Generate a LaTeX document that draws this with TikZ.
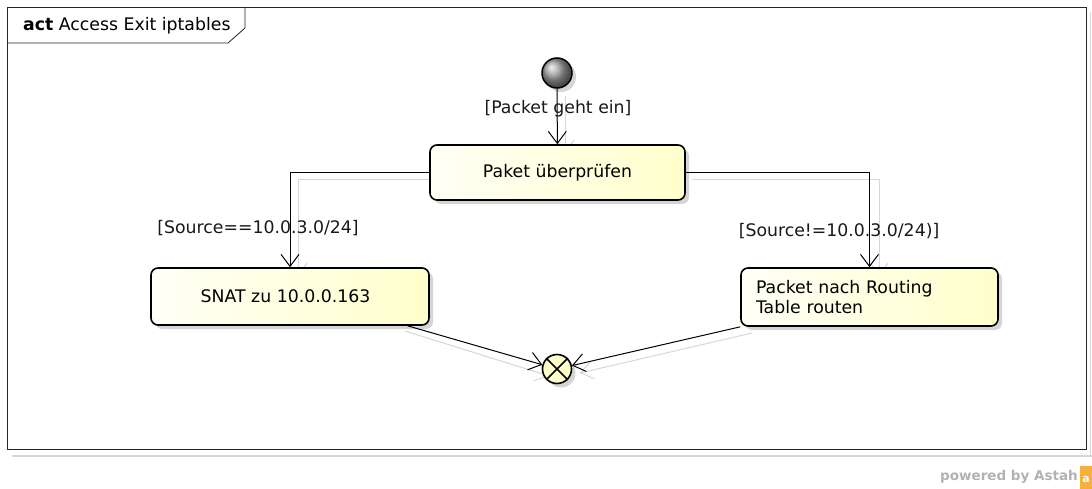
\documentclass[tikz,border=0pt]{standalone}
\usepackage{fontspec}
\setmainfont{DejaVu Sans}
\usetikzlibrary{arrows.meta,shadows}

\definecolor{boxL}{RGB}{255,255,246}
\definecolor{boxR}{RGB}{255,255,204}
\definecolor{shadecol}{RGB}{185,185,185}
\definecolor{edgeshade}{RGB}{215,215,215}
\definecolor{astahgray}{RGB}{178,178,178}
\definecolor{astahorange}{RGB}{246,176,60}

\begin{document}
\begin{tikzpicture}[x=1pt,y=-1pt,
  font=\fontsize{17.3}{20}\selectfont,
  action/.style={draw=black, line width=1.6pt, rounded corners=7pt,
    left color=boxL, right color=boxR, inner sep=0pt,
    drop shadow={shadow xshift=4pt, shadow yshift=-4pt, fill=shadecol, opacity=0.6}},
  flow/.style={draw=black, line width=1pt,
    -{Straight Barb[length=12pt,width=18pt,line width=1pt]}},
  flowshade/.style={draw=edgeshade, line width=1pt,
    -{Straight Barb[length=12pt,width=18pt,line width=1pt]}},
  guard/.style={inner sep=0pt, text=black!90}]

\useasboundingbox (0,0) rectangle (1092,489);

% diagram frame with its faint shadow
\draw[edgeshade, line width=1.5pt] (12,456) -- (1092,456);
\draw[edgeshade, line width=1pt] (1090,12) -- (1090,456);
\draw[black!85, line width=0.8pt, fill=white] (7,7) rectangle (1086,449);
\draw[black!85, line width=0.8pt] (7,43) -- (228,43) -- (245,28) -- (245,7);
\node[anchor=west, inner sep=0pt] (title) at (23,26) {\textbf{act} Access Exit iptables};

% edge shadows
\draw[flowshade] (565,96) -- (565,153);
\draw[flowshade] (438,180) -- (298,180) -- (298,276);
\draw[flowshade] (692,180) -- (879,180) -- (879,276);
\draw[flowshade] (405,331) -- (549,376);
\draw[flowshade] (752,333) -- (580,373);

% nodes
\node[circle, minimum size=30pt, inner sep=0pt, draw=black, line width=1.5pt,
      ball color=gray!75, drop shadow={shadow xshift=4pt, shadow yshift=-4pt, fill=shadecol, opacity=0.6}]
      (init) at (557,73) {};
\node[action, minimum width=255pt, minimum height=55pt] (check) at (557.5,172.5) {Paket überprüfen};
\node[action, minimum width=278pt, minimum height=57pt] (snat) at (290,296.5) {\hspace*{-9pt}SNAT zu 10.0.0.163};
\node[action, minimum width=257pt, minimum height=58pt, text width=227pt, inner xsep=15pt, align=left]
      (route) at (869.5,297) {Packet nach Routing\\Table routen};
\node[circle, minimum size=29pt, inner sep=0pt, draw=black, line width=1.6pt, fill=boxR,
      drop shadow={shadow xshift=4pt, shadow yshift=-4pt, fill=shadecol, opacity=0.6}]
      (final) at (557,369) {};
\draw[black, line width=1.6pt] (final.45) -- (final.225) (final.135) -- (final.315);

% transitions
\draw[flow] (init) -- (check);
\draw[flow] (check.west) -| (snat.north);
\draw[flow] (check.east) -| (route.north);
\draw[flow] (snat.-14) -- (final);
\draw[flow] (route.193) -- (final);

% guards
\node[guard] (g1) at (558,109) {[Packet geht ein]};
\node[guard] (g2) at (258,228) {[Source==10.0.3.0/24]};
\node[guard] (g3) at (839,231) {[Source!=10.0.3.0/24)]};

% vendor mark
\node[anchor=east, inner sep=0pt, text=astahgray, font=\fontsize{13.5}{15}\selectfont\bfseries]
      (powered) at (1078,477) {powered by Astah};
\fill[astahorange] (1080,466) rectangle (1092,489);
\node[inner sep=0pt, text=white, font=\fontsize{11}{12}\selectfont\bfseries] (logo) at (1086,479) {a};
\end{tikzpicture}
\end{document}
